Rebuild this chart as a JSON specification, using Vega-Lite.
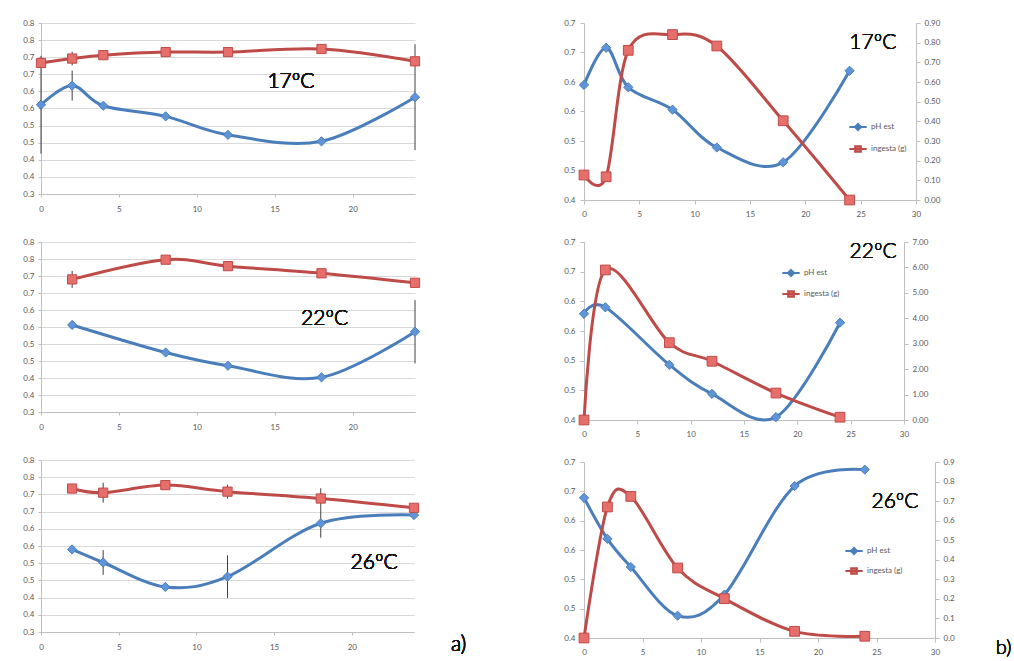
{
  "$schema": "https://vega.github.io/schema/vega-lite/v6.json",
  "background": "white",
  "padding": {"left": 0, "top": 19, "right": 0, "bottom": 0},
  "config": {
    "view": {"stroke": null},
    "axis": {"labelFont": "Lato", "labelFontSize": 8, "labelColor": "#595959", "domainColor": "#bfbfbf", "tickColor": "#bfbfbf", "grid": false, "labelFlush": false, "labelOverlap": false, "tickSize": 3, "title": null},
    "text": {"font": "Lato", "fontWeight": 300}
  },
  "datasets": {
    "a17": [
      {"t": 0, "s": "s1", "v": 0.561, "e": 0.143}, {"t": 2, "s": "s1", "v": 0.617, "e": 0.044}, {"t": 4, "s": "s1", "v": 0.558, "e": 0}, {"t": 8, "s": "s1", "v": 0.527, "e": 0}, {"t": 12, "s": "s1", "v": 0.473, "e": 0}, {"t": 18, "s": "s1", "v": 0.454, "e": 0}, {"t": 24, "s": "s1", "v": 0.583, "e": 0.155},
      {"t": 0, "s": "s2", "v": 0.683, "e": 0.01}, {"t": 2, "s": "s2", "v": 0.696, "e": 0.02}, {"t": 4, "s": "s2", "v": 0.706, "e": 0}, {"t": 8, "s": "s2", "v": 0.715, "e": 0}, {"t": 12, "s": "s2", "v": 0.715, "e": 0}, {"t": 18, "s": "s2", "v": 0.724, "e": 0}, {"t": 24, "s": "s2", "v": 0.688, "e": 0}
    ],
    "a22": [
      {"t": 2, "s": "s1", "v": 0.556, "e": 0}, {"t": 8, "s": "s1", "v": 0.475, "e": 0}, {"t": 12, "s": "s1", "v": 0.436, "e": 0}, {"t": 18, "s": "s1", "v": 0.402, "e": 0}, {"t": 24, "s": "s1", "v": 0.536, "e": 0.093},
      {"t": 2, "s": "s2", "v": 0.69, "e": 0.025}, {"t": 8, "s": "s2", "v": 0.748, "e": 0}, {"t": 12, "s": "s2", "v": 0.729, "e": 0}, {"t": 18, "s": "s2", "v": 0.708, "e": 0}, {"t": 24, "s": "s2", "v": 0.68, "e": 0}
    ],
    "a26": [
      {"t": 2, "s": "s1", "v": 0.54, "e": 0}, {"t": 4, "s": "s1", "v": 0.502, "e": 0.036}, {"t": 8, "s": "s1", "v": 0.431, "e": 0}, {"t": 12, "s": "s1", "v": 0.461, "e": 0.062}, {"t": 18, "s": "s1", "v": 0.616, "e": 0.042}, {"t": 24, "s": "s1", "v": 0.64, "e": 0},
      {"t": 2, "s": "s2", "v": 0.717, "e": 0}, {"t": 4, "s": "s2", "v": 0.705, "e": 0.029}, {"t": 8, "s": "s2", "v": 0.727, "e": 0}, {"t": 12, "s": "s2", "v": 0.708, "e": 0.02}, {"t": 18, "s": "s2", "v": 0.688, "e": 0.03}, {"t": 24, "s": "s2", "v": 0.661, "e": 0}
    ],
    "b17": [
      {"t": 0, "s": "pH est", "v": 0.595}, {"t": 2, "s": "pH est", "v": 0.658}, {"t": 4, "s": "pH est", "v": 0.591}, {"t": 8, "s": "pH est", "v": 0.553}, {"t": 12, "s": "pH est", "v": 0.489}, {"t": 18, "s": "pH est", "v": 0.464}, {"t": 24, "s": "pH est", "v": 0.619},
      {"t": 0, "s": "ingesta (g)", "v": 0.127}, {"t": 2, "s": "ingesta (g)", "v": 0.118}, {"t": 4, "s": "ingesta (g)", "v": 0.761}, {"t": 8, "s": "ingesta (g)", "v": 0.841}, {"t": 12, "s": "ingesta (g)", "v": 0.783}, {"t": 18, "s": "ingesta (g)", "v": 0.403}, {"t": 24, "s": "ingesta (g)", "v": 0.0}
    ],
    "b22": [
      {"t": 0, "s": "pH est", "v": 0.579}, {"t": 2, "s": "pH est", "v": 0.59}, {"t": 8, "s": "pH est", "v": 0.493}, {"t": 12, "s": "pH est", "v": 0.444}, {"t": 18, "s": "pH est", "v": 0.405}, {"t": 24, "s": "pH est", "v": 0.564},
      {"t": 0, "s": "ingesta (g)", "v": 0.0}, {"t": 2, "s": "ingesta (g)", "v": 5.9}, {"t": 8, "s": "ingesta (g)", "v": 3.04}, {"t": 12, "s": "ingesta (g)", "v": 2.31}, {"t": 18, "s": "ingesta (g)", "v": 1.06}, {"t": 24, "s": "ingesta (g)", "v": 0.11}
    ],
    "b26": [
      {"t": 0, "s": "pH est", "v": 0.639}, {"t": 2, "s": "pH est", "v": 0.569}, {"t": 4, "s": "pH est", "v": 0.521}, {"t": 8, "s": "pH est", "v": 0.438}, {"t": 12, "s": "pH est", "v": 0.474}, {"t": 18, "s": "pH est", "v": 0.659}, {"t": 24, "s": "pH est", "v": 0.687},
      {"t": 0, "s": "ingesta (g)", "v": 0.0}, {"t": 2, "s": "ingesta (g)", "v": 0.67}, {"t": 4, "s": "ingesta (g)", "v": 0.724}, {"t": 8, "s": "ingesta (g)", "v": 0.358}, {"t": 12, "s": "ingesta (g)", "v": 0.201}, {"t": 18, "s": "ingesta (g)", "v": 0.034}, {"t": 24, "s": "ingesta (g)", "v": 0.009}
    ]
  },
  "spacing": 60,
  "resolve": {"scale": {"color": "independent", "fill": "independent", "stroke": "independent", "shape": "independent"}, "legend": {"color": "independent"}},
  "hconcat": [
    {
      "spacing": 25,
      "resolve": {"scale": {"color": "independent", "fill": "independent", "stroke": "independent", "shape": "independent"}, "legend": {"color": "independent"}},
      "vconcat": [
        {
          "width": 374, "height": 171,
          "data": {"name": "a17"},
          "encoding": {
            "x": {"field": "t", "type": "quantitative", "scale": {"domain": [0, 24], "nice": false}, "axis": {"title": null, "values": [0, 5, 10, 15, 20], "labelPadding": 8}},
            "y": {"field": "v", "type": "quantitative", "scale": {"domain": [0.3, 0.8], "nice": false, "zero": false}, "axis": {"title": null, "values": [0.3, 0.35, 0.4, 0.45, 0.5, 0.55, 0.6, 0.65, 0.7, 0.75, 0.8], "grid": true, "gridColor": "#d9d9d9", "labelExpr": "format(datum.value + 1e-9, '.1f')", "minExtent": 41, "labelPadding": 4}}
          },
          "layer": [
            {"transform": [{"filter": "datum.e > 0"}], "mark": {"type": "errorbar", "color": "#404040", "thickness": 1}, "encoding": {"yError": {"field": "e"}}},
            {"mark": {"type": "line", "interpolate": "cardinal", "strokeWidth": 3}, "encoding": {"color": {"field": "s", "type": "nominal", "scale": {"domain": ["s1", "s2"], "range": ["#4a7ebb", "#be4b48"]}, "legend": null}}},
            {"mark": {"type": "point", "filled": true, "opacity": 1, "size": 85, "strokeWidth": 1}, "encoding": {
              "shape": {"field": "s", "type": "nominal", "scale": {"domain": ["s1", "s2"], "range": ["diamond", "square"]}, "legend": null},
              "fill": {"field": "s", "type": "nominal", "scale": {"domain": ["s1", "s2"], "range": ["#5f95d8", "#e66e6b"]}, "legend": null},
              "stroke": {"field": "s", "type": "nominal", "scale": {"domain": ["s1", "s2"], "range": ["#4a7ebb", "#be4b48"]}, "legend": null}}},
            {"mark": {"type": "text", "fontSize": 21, "color": "#111111"}, "encoding": {"x": {"datum": 16.04}, "y": {"datum": 0.628}, "text": {"value": "17ºC"}}}
          ]
        },
        {
          "width": 374, "height": 170,
          "data": {"name": "a22"},
          "encoding": {
            "x": {"field": "t", "type": "quantitative", "scale": {"domain": [0, 24], "nice": false}, "axis": {"title": null, "values": [0, 5, 10, 15, 20], "labelPadding": 8}},
            "y": {"field": "v", "type": "quantitative", "scale": {"domain": [0.3, 0.8], "nice": false, "zero": false}, "axis": {"title": null, "values": [0.3, 0.35, 0.4, 0.45, 0.5, 0.55, 0.6, 0.65, 0.7, 0.75, 0.8], "grid": true, "gridColor": "#d9d9d9", "labelExpr": "format(datum.value + 1e-9, '.1f')", "minExtent": 41, "labelPadding": 4}}
          },
          "layer": [
            {"transform": [{"filter": "datum.e > 0"}], "mark": {"type": "errorbar", "color": "#404040", "thickness": 1}, "encoding": {"yError": {"field": "e"}}},
            {"mark": {"type": "line", "interpolate": "cardinal", "strokeWidth": 3}, "encoding": {"color": {"field": "s", "type": "nominal", "scale": {"domain": ["s1", "s2"], "range": ["#4a7ebb", "#be4b48"]}, "legend": null}}},
            {"mark": {"type": "point", "filled": true, "opacity": 1, "size": 85, "strokeWidth": 1}, "encoding": {
              "shape": {"field": "s", "type": "nominal", "scale": {"domain": ["s1", "s2"], "range": ["diamond", "square"]}, "legend": null},
              "fill": {"field": "s", "type": "nominal", "scale": {"domain": ["s1", "s2"], "range": ["#5f95d8", "#e66e6b"]}, "legend": null},
              "stroke": {"field": "s", "type": "nominal", "scale": {"domain": ["s1", "s2"], "range": ["#4a7ebb", "#be4b48"]}, "legend": null}}},
            {"mark": {"type": "text", "fontSize": 21, "color": "#111111"}, "encoding": {"x": {"datum": 18.2}, "y": {"datum": 0.573}, "text": {"value": "22ºC"}}}
          ]
        },
        {
          "width": 373, "height": 172,
          "data": {"name": "a26"},
          "encoding": {
            "x": {"field": "t", "type": "quantitative", "scale": {"domain": [0, 24], "nice": false}, "axis": {"title": null, "values": [0, 5, 10, 15, 20], "labelPadding": 8}},
            "y": {"field": "v", "type": "quantitative", "scale": {"domain": [0.3, 0.8], "nice": false, "zero": false}, "axis": {"title": null, "values": [0.3, 0.35, 0.4, 0.45, 0.5, 0.55, 0.6, 0.65, 0.7, 0.75, 0.8], "grid": true, "gridColor": "#d9d9d9", "labelExpr": "format(datum.value + 1e-9, '.1f')", "minExtent": 41, "labelPadding": 4}}
          },
          "layer": [
            {"transform": [{"filter": "datum.e > 0"}], "mark": {"type": "errorbar", "color": "#404040", "thickness": 1}, "encoding": {"yError": {"field": "e"}}},
            {"mark": {"type": "line", "interpolate": "cardinal", "strokeWidth": 3}, "encoding": {"color": {"field": "s", "type": "nominal", "scale": {"domain": ["s1", "s2"], "range": ["#4a7ebb", "#be4b48"]}, "legend": null}}},
            {"mark": {"type": "point", "filled": true, "opacity": 1, "size": 85, "strokeWidth": 1}, "encoding": {
              "shape": {"field": "s", "type": "nominal", "scale": {"domain": ["s1", "s2"], "range": ["diamond", "square"]}, "legend": null},
              "fill": {"field": "s", "type": "nominal", "scale": {"domain": ["s1", "s2"], "range": ["#5f95d8", "#e66e6b"]}, "legend": null},
              "stroke": {"field": "s", "type": "nominal", "scale": {"domain": ["s1", "s2"], "range": ["#4a7ebb", "#be4b48"]}, "legend": null}}},
            {"mark": {"type": "text", "fontSize": 21, "color": "#111111"}, "encoding": {"x": {"datum": 21.43}, "y": {"datum": 0.5}, "text": {"value": "26ºC"}}},
            {"mark": {"type": "text", "fontSize": 21, "color": "#111111", "align": "left"}, "encoding": {"x": {"datum": 26.38}, "y": {"datum": 0.262}, "text": {"value": "a)"}}}
          ]
        }
      ]
    },
    {
      "spacing": 20,
      "resolve": {"scale": {"color": "independent", "fill": "independent", "stroke": "independent", "shape": "independent"}, "legend": {"color": "independent"}},
      "vconcat": [
        {
          "width": 332, "height": 177,
          "data": {"name": "b17"},
          "encoding": {
            "x": {"field": "t", "type": "quantitative", "scale": {"domain": [0, 30], "nice": false}, "axis": {"title": null, "values": [0, 5, 10, 15, 20, 25, 30], "tickSize": 4, "labelPadding": 6}}
          },
          "layer": [
            {
              "transform": [{"filter": "datum.s === 'pH est'"}],
              "encoding": {"y": {"field": "v", "type": "quantitative", "scale": {"domain": [0.4, 0.7], "nice": false, "zero": false}, "axis": {"title": null, "orient": "left", "values": [0.4, 0.45, 0.5, 0.55, 0.6, 0.65, 0.7], "labelExpr": "format(datum.value + 1e-9, '.1f')", "minExtent": 57, "tickSize": 4, "labelPadding": 5}}},
              "layer": [
                {"mark": {"type": "line", "interpolate": "cardinal", "strokeWidth": 3}, "encoding": {"color": {"field": "s", "type": "nominal", "scale": {"domain": ["pH est", "ingesta (g)"], "range": ["#4a7ebb", "#be4b48"]},
                  "legend": {"orient": "none", "legendX": 264, "legendY": 94, "title": null, "labelFont": "Lato", "labelFontSize": 8, "labelColor": "#595959", "rowPadding": 4, "symbolSize": 300, "labelOffset": 3,
                    "encode": {"symbols": {"update": {
                      "shape": {"signal": "datum.value === 'pH est' ? 'M-1,0H1M-0.35,0L0,-0.35L0.35,0L0,0.35Z' : 'M-1,0H1M-0.33,-0.33H0.33V0.33H-0.33Z'"},
                      "stroke": {"signal": "datum.value === 'pH est' ? '#4a7ebb' : '#be4b48'"},
                      "fill": {"signal": "datum.value === 'pH est' ? '#5f95d8' : '#e66e6b'"},
                      "strokeWidth": {"value": 2}, "opacity": {"value": 1}}}}}}}},
                {"mark": {"type": "point", "filled": true, "opacity": 1, "size": 85, "strokeWidth": 1, "shape": "diamond", "fill": "#5f95d8", "stroke": "#4a7ebb"}},
                {"mark": {"type": "text", "fontSize": 21, "color": "#111111"}, "encoding": {"x": {"datum": 26.1}, "y": {"datum": 0.666}, "text": {"value": "17ºC"}}}
              ]
            },
            {
              "transform": [{"filter": "datum.s === 'ingesta (g)'"}],
              "encoding": {"y": {"field": "v", "type": "quantitative", "scale": {"domain": [0, 0.9], "nice": false}, "axis": {"title": null, "orient": "right", "values": [0, 0.1, 0.2, 0.3, 0.4, 0.5, 0.6, 0.7, 0.8, 0.9], "format": ".2f", "tickSize": 4, "labelPadding": 4}}},
              "layer": [
                {"mark": {"type": "line", "interpolate": "cardinal", "strokeWidth": 3}, "encoding": {"color": {"field": "s", "type": "nominal", "scale": {"domain": ["pH est", "ingesta (g)"], "range": ["#4a7ebb", "#be4b48"]}}}},
                {"mark": {"type": "point", "filled": true, "opacity": 1, "size": 95, "strokeWidth": 1, "shape": "square", "fill": "#e66e6b", "stroke": "#be4b48"}}
              ]
            }
          ],
          "resolve": {"scale": {"y": "independent"}}
        },
        {
          "width": 320, "height": 178,
          "data": {"name": "b22"},
          "encoding": {
            "x": {"field": "t", "type": "quantitative", "scale": {"domain": [0, 30], "nice": false}, "axis": {"title": null, "values": [0, 5, 10, 15, 20, 25, 30], "tickSize": 4, "labelPadding": 6}}
          },
          "layer": [
            {
              "transform": [{"filter": "datum.s === 'pH est'"}],
              "encoding": {"y": {"field": "v", "type": "quantitative", "scale": {"domain": [0.4, 0.7], "nice": false, "zero": false}, "axis": {"title": null, "orient": "left", "values": [0.4, 0.45, 0.5, 0.55, 0.6, 0.65, 0.7], "labelExpr": "format(datum.value + 1e-9, '.1f')", "minExtent": 57, "tickSize": 4, "labelPadding": 5}}},
              "layer": [
                {"mark": {"type": "line", "interpolate": "cardinal", "strokeWidth": 3}, "encoding": {"color": {"field": "s", "type": "nominal", "scale": {"domain": ["pH est", "ingesta (g)"], "range": ["#4a7ebb", "#be4b48"]},
                  "legend": {"orient": "none", "legendX": 197, "legendY": 21, "title": null, "labelFont": "Lato", "labelFontSize": 8, "labelColor": "#595959", "rowPadding": 3, "symbolSize": 300, "labelOffset": 3,
                    "encode": {"symbols": {"update": {
                      "shape": {"signal": "datum.value === 'pH est' ? 'M-1,0H1M-0.35,0L0,-0.35L0.35,0L0,0.35Z' : 'M-1,0H1M-0.33,-0.33H0.33V0.33H-0.33Z'"},
                      "stroke": {"signal": "datum.value === 'pH est' ? '#4a7ebb' : '#be4b48'"},
                      "fill": {"signal": "datum.value === 'pH est' ? '#5f95d8' : '#e66e6b'"},
                      "strokeWidth": {"value": 2}, "opacity": {"value": 1}}}}}}}},
                {"mark": {"type": "point", "filled": true, "opacity": 1, "size": 85, "strokeWidth": 1, "shape": "diamond", "fill": "#5f95d8", "stroke": "#4a7ebb"}},
                {"mark": {"type": "text", "fontSize": 21, "color": "#111111"}, "encoding": {"x": {"datum": 27.1}, "y": {"datum": 0.683}, "text": {"value": "22ºC"}}}
              ]
            },
            {
              "transform": [{"filter": "datum.s === 'ingesta (g)'"}],
              "encoding": {"y": {"field": "v", "type": "quantitative", "scale": {"domain": [0, 7], "nice": false}, "axis": {"title": null, "orient": "right", "values": [0, 1, 2, 3, 4, 5, 6, 7], "format": ".2f", "tickSize": 4, "labelPadding": 4}}},
              "layer": [
                {"mark": {"type": "line", "interpolate": "cardinal", "strokeWidth": 3}, "encoding": {"color": {"field": "s", "type": "nominal", "scale": {"domain": ["pH est", "ingesta (g)"], "range": ["#4a7ebb", "#be4b48"]}}}},
                {"mark": {"type": "point", "filled": true, "opacity": 1, "size": 95, "strokeWidth": 1, "shape": "square", "fill": "#e66e6b", "stroke": "#be4b48"}}
              ]
            }
          ],
          "resolve": {"scale": {"y": "independent"}}
        },
        {
          "width": 351, "height": 176,
          "data": {"name": "b26"},
          "encoding": {
            "x": {"field": "t", "type": "quantitative", "scale": {"domain": [0, 30], "nice": false}, "axis": {"title": null, "values": [0, 5, 10, 15, 20, 25, 30], "tickSize": 4, "labelPadding": 6}}
          },
          "layer": [
            {
              "transform": [{"filter": "datum.s === 'pH est'"}],
              "encoding": {"y": {"field": "v", "type": "quantitative", "scale": {"domain": [0.4, 0.7], "nice": false, "zero": false}, "axis": {"title": null, "orient": "left", "values": [0.4, 0.45, 0.5, 0.55, 0.6, 0.65, 0.7], "labelExpr": "format(datum.value + 1e-9, '.1f')", "minExtent": 57, "tickSize": 4, "labelPadding": 5}}},
              "layer": [
                {"mark": {"type": "line", "interpolate": "cardinal", "strokeWidth": 3}, "encoding": {"color": {"field": "s", "type": "nominal", "scale": {"domain": ["pH est", "ingesta (g)"], "range": ["#4a7ebb", "#be4b48"]},
                  "legend": {"orient": "none", "legendX": 260, "legendY": 79, "title": null, "labelFont": "Lato", "labelFontSize": 8, "labelColor": "#595959", "rowPadding": 2, "symbolSize": 300, "labelOffset": 3,
                    "encode": {"symbols": {"update": {
                      "shape": {"signal": "datum.value === 'pH est' ? 'M-1,0H1M-0.35,0L0,-0.35L0.35,0L0,0.35Z' : 'M-1,0H1M-0.33,-0.33H0.33V0.33H-0.33Z'"},
                      "stroke": {"signal": "datum.value === 'pH est' ? '#4a7ebb' : '#be4b48'"},
                      "fill": {"signal": "datum.value === 'pH est' ? '#5f95d8' : '#e66e6b'"},
                      "strokeWidth": {"value": 2}, "opacity": {"value": 1}}}}}}}},
                {"mark": {"type": "point", "filled": true, "opacity": 1, "size": 85, "strokeWidth": 1, "shape": "diamond", "fill": "#5f95d8", "stroke": "#4a7ebb"}},
                {"mark": {"type": "text", "fontSize": 21, "color": "#111111"}, "encoding": {"x": {"datum": 26.58}, "y": {"datum": 0.631}, "text": {"value": "26ºC"}}},
                {"mark": {"type": "text", "fontSize": 20, "color": "#111111", "align": "left"}, "encoding": {"x": {"datum": 35.2}, "y": {"datum": 0.383}, "text": {"value": "b)"}}}
              ]
            },
            {
              "transform": [{"filter": "datum.s === 'ingesta (g)'"}],
              "encoding": {"y": {"field": "v", "type": "quantitative", "scale": {"domain": [0, 0.9], "nice": false}, "axis": {"title": null, "orient": "right", "values": [0, 0.1, 0.2, 0.3, 0.4, 0.5, 0.6, 0.7, 0.8, 0.9], "format": ".1f", "tickSize": 4, "labelPadding": 4}}},
              "layer": [
                {"mark": {"type": "line", "interpolate": "cardinal", "strokeWidth": 3}, "encoding": {"color": {"field": "s", "type": "nominal", "scale": {"domain": ["pH est", "ingesta (g)"], "range": ["#4a7ebb", "#be4b48"]}}}},
                {"mark": {"type": "point", "filled": true, "opacity": 1, "size": 95, "strokeWidth": 1, "shape": "square", "fill": "#e66e6b", "stroke": "#be4b48"}}
              ]
            }
          ],
          "resolve": {"scale": {"y": "independent"}}
        }
      ]
    }
  ]
}
